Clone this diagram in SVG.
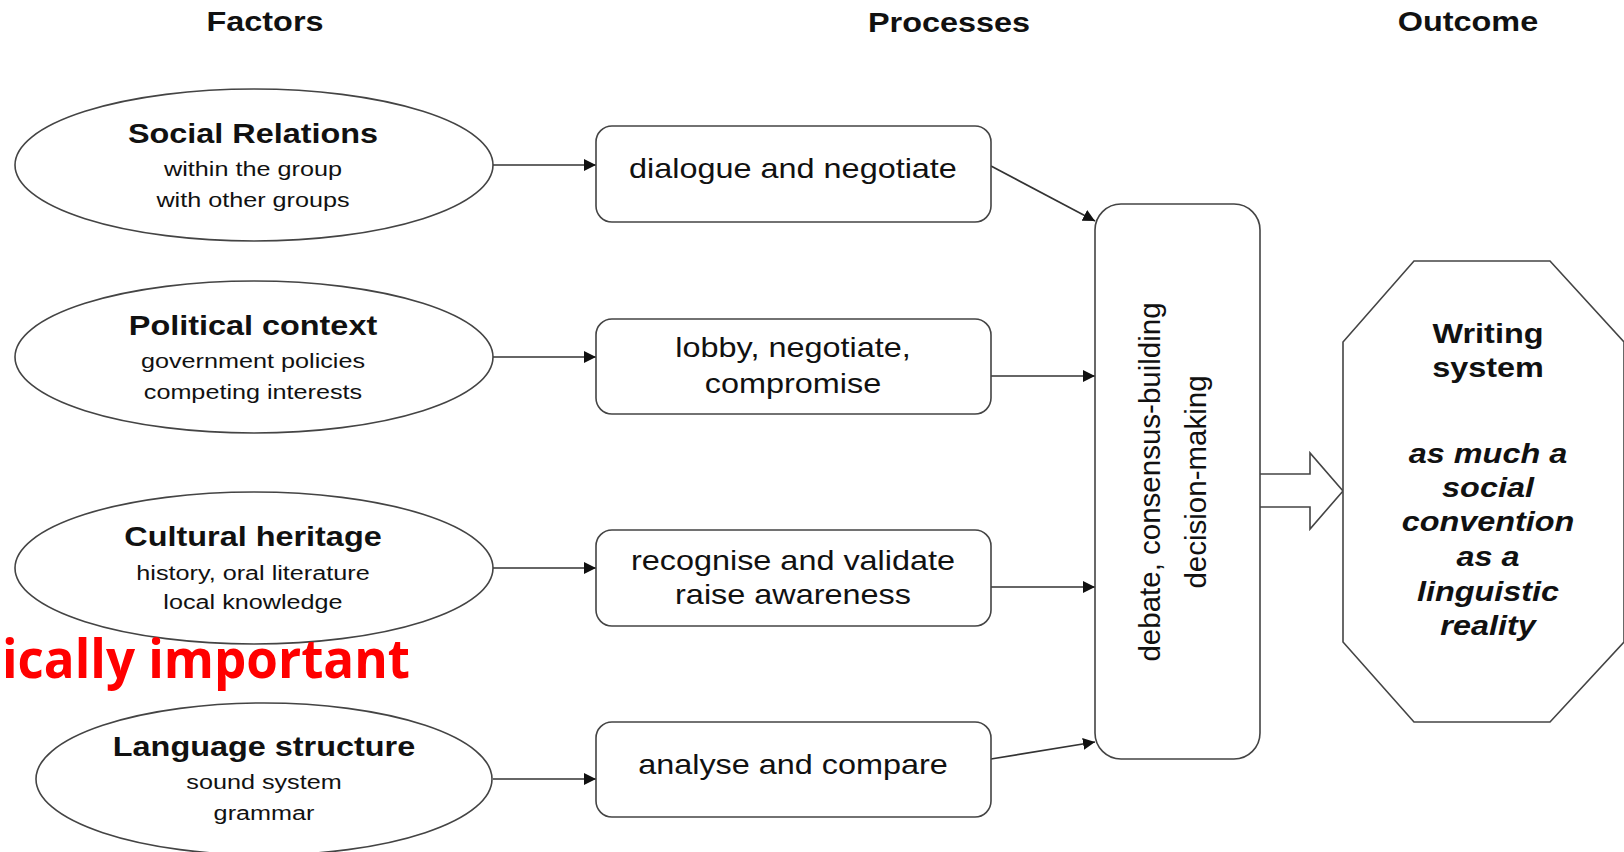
<svg xmlns="http://www.w3.org/2000/svg" width="1624" height="852" viewBox="0 0 1624 852">
<defs>
<style>
.shape{fill:#fff;stroke:#444;stroke-width:1.6}
.hdr{font-family:"Liberation Sans",Arial,sans-serif;font-weight:bold;font-size:27px;fill:#111;text-anchor:middle}
.ttl{font-family:"Liberation Sans",Arial,sans-serif;font-weight:bold;font-size:27px;fill:#111;text-anchor:middle}
.sub{font-family:"Liberation Sans",Arial,sans-serif;font-size:21px;fill:#111;text-anchor:middle}
.proc{font-family:"Liberation Sans",Arial,sans-serif;font-size:27px;fill:#111;text-anchor:middle}
.vert{font-family:"Liberation Sans",Arial,sans-serif;font-size:29.5px;fill:#111;text-anchor:middle}
.out{font-family:"Liberation Sans",Arial,sans-serif;font-weight:bold;font-style:italic;font-size:27px;fill:#111;text-anchor:middle}
.conn{stroke:#333;stroke-width:1.6;fill:none;marker-end:url(#ah)}
</style>
<marker id="ah" viewBox="0 0 10 10" refX="10" refY="5" markerWidth="12" markerHeight="12" markerUnits="userSpaceOnUse" orient="auto">
<path d="M0,0 L10,5 L0,10 z" fill="#111"/>
</marker>
</defs>
<rect width="1624" height="852" fill="#fff"/>
<g id="headers">
<text class="hdr" transform="translate(265,31) scale(1.2,1)">Factors</text>
<text class="hdr" transform="translate(949,32) scale(1.2,1)">Processes</text>
<text class="hdr" transform="translate(1468,31) scale(1.2,1)">Outcome</text>
</g>
<g id="connectors">
<line class="conn" x1="493" y1="165" x2="596" y2="165"/>
<line class="conn" x1="493" y1="357" x2="596" y2="357"/>
<line class="conn" x1="493" y1="568" x2="596" y2="568"/>
<line class="conn" x1="493" y1="779" x2="596" y2="779"/>
<line class="conn" x1="991" y1="166" x2="1095" y2="221"/>
<line class="conn" x1="991" y1="376" x2="1095" y2="376"/>
<line class="conn" x1="991" y1="587" x2="1095" y2="587"/>
<line class="conn" x1="991" y1="759" x2="1095" y2="742"/>
<path class="shape" d="M1260,474 L1310,474 L1310,453 L1343,491 L1310,529 L1310,507 L1260,507"/>
</g>
<g id="social">
<ellipse class="shape" cx="254" cy="165" rx="239" ry="76"/>
<g transform="translate(253,0) scale(1.2,1)">
<text class="ttl" x="0" y="143">Social Relations</text>
<text class="sub" x="0" y="176">within the group</text>
<text class="sub" x="0" y="207">with other groups</text>
</g>
</g>
<g id="political">
<ellipse class="shape" cx="254" cy="357" rx="239" ry="76"/>
<g transform="translate(253,0) scale(1.2,1)">
<text class="ttl" x="0" y="335">Political context</text>
<text class="sub" x="0" y="368">government policies</text>
<text class="sub" x="0" y="399">competing interests</text>
</g>
</g>
<g id="cultural">
<ellipse class="shape" cx="254" cy="568" rx="239" ry="76"/>
<g transform="translate(253,0) scale(1.2,1)">
<text class="ttl" x="0" y="546">Cultural heritage</text>
<text class="sub" x="0" y="580">history, oral literature</text>
<text class="sub" x="0" y="609">local knowledge</text>
</g>
</g>
<g id="redlabel">
<text x="2" y="678" font-family="'Open Sans',Lato,sans-serif" font-weight="bold" font-size="54" fill="#f00" textLength="408" lengthAdjust="spacingAndGlyphs">ically important</text>
</g>
<g id="language">
<ellipse class="shape" cx="264" cy="779" rx="228" ry="76"/>
<g transform="translate(264,0) scale(1.2,1)">
<text class="ttl" x="0" y="756">Language structure</text>
<text class="sub" x="0" y="789">sound system</text>
<text class="sub" x="0" y="820">grammar</text>
</g>
</g>
<g id="p1">
<rect class="shape" x="596" y="126" width="395" height="96" rx="16"/>
<text class="proc" transform="translate(793,178) scale(1.2,1)">dialogue and negotiate</text>
</g>
<g id="p2">
<rect class="shape" x="596" y="319" width="395" height="95" rx="16"/>
<g transform="translate(793,0) scale(1.2,1)">
<text class="proc" x="0" y="357">lobby, negotiate,</text>
<text class="proc" x="0" y="393">compromise</text>
</g>
</g>
<g id="p3">
<rect class="shape" x="596" y="530" width="395" height="96" rx="16"/>
<g transform="translate(793,0) scale(1.2,1)">
<text class="proc" x="0" y="570">recognise and validate</text>
<text class="proc" x="0" y="604">raise awareness</text>
</g>
</g>
<g id="p4">
<rect class="shape" x="596" y="722" width="395" height="95" rx="16"/>
<text class="proc" transform="translate(793,774) scale(1.2,1)">analyse and compare</text>
</g>
<g id="debate">
<rect class="shape" x="1095" y="204" width="165" height="555" rx="26"/>
<text class="vert" transform="translate(1160,482) rotate(-90)">debate, consensus-building</text>
<text class="vert" transform="translate(1206,482) rotate(-90)">decision-making</text>
</g>
<g id="outcome">
<polygon class="shape" points="1414,261 1550,261 1624,342 1624,642 1550,722 1414,722 1343,642 1343,342"/>
<g transform="translate(1488,0) scale(1.2,1)">
<text class="ttl" x="0" y="343">Writing</text>
<text class="ttl" x="0" y="377">system</text>
<text class="out" x="0" y="463">as much a</text>
<text class="out" x="0" y="497">social</text>
<text class="out" x="0" y="531">convention</text>
<text class="out" x="0" y="566">as a</text>
<text class="out" x="0" y="601">linguistic</text>
<text class="out" x="0" y="635">reality</text>
</g>
</g>
</svg>
